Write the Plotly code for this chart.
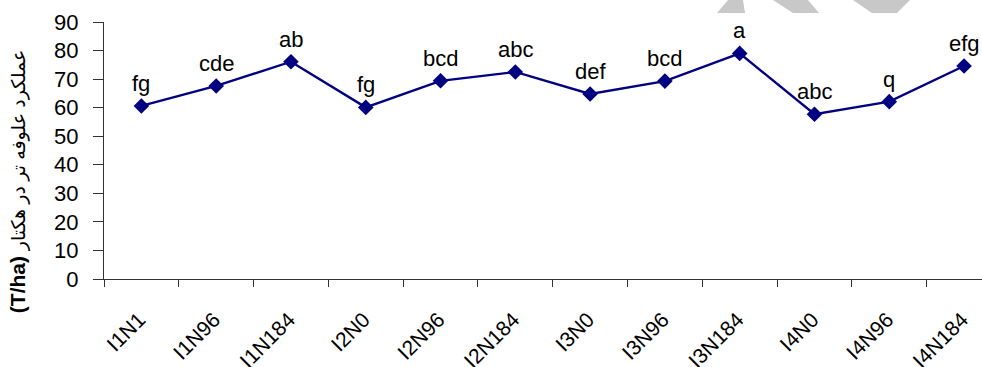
import plotly.graph_objects as go

# Treatments (irrigation level x nitrogen rate)
treatments = ["I1N1", "I1N96", "I1N184", "I2N0", "I2N96", "I2N184",
              "I3N0", "I3N96", "I3N184", "I4N0", "I4N96", "I4N184"]
# Fresh forage yield, T/ha
yield_tha = [60.6, 67.6, 76.1, 60.1, 69.4, 72.5, 64.8, 69.3, 79.0, 57.7, 62.1, 74.6]
# Mean-separation letters
letters = ["fg", "cde", "ab", "fg", "bcd", "abc", "def", "bcd", "a", "abc", "q", "efg"]

y_ticks = [0, 10, 20, 30, 40, 50, 60, 70, 80, 90]

NAVY = "#000080"
AX = "#333333"
FONT = "Liberation Sans, Arial"

fig = go.Figure()
fig.add_trace(go.Scatter(
    x=treatments, y=yield_tha, mode="lines+markers",
    line=dict(color=NAVY, width=2.4),
    marker=dict(symbol="diamond", size=12, color=NAVY),
    hoverinfo="x+y", showlegend=False,
))

for t, v, s in zip(treatments, yield_tha, letters):
    fig.add_annotation(x=t, y=v, text=s, showarrow=False,
                       yanchor="bottom", yshift=8,
                       font=dict(family=FONT, size=22, color="#000"))

# y-axis title, set a little below the middle of the axis
fig.add_annotation(
    xref="paper", yref="paper", x=-0.097, y=0.38,
    xanchor="center", yanchor="middle", textangle=-90, showarrow=False,
    text="<b>(T/ha)</b> <span style='font-size:19px'>عملکرد علوفه تر در هکتار</span>",
    font=dict(size=21, family="Liberation Sans, DejaVu Sans", color="#000"),
)

# faint decorative shapes along the top edge
def px_to_paper(px, py):
    return (px - 104) / 878, (279 - py) / 257

def poly(points):
    pts = [px_to_paper(a, b) for a, b in points]
    return "M " + " L ".join(f"{a:.4f},{b:.4f}" for a, b in pts) + " Z"

for pts in [
    [(728, 0), (743, 0), (745, 13), (717, 13)],
    [(773, 0), (808, 0), (819, 13), (793, 13)],
    [(853, 0), (910, 0), (897, 13), (872, 13)],
]:
    fig.add_shape(type="path", path=poly(pts), xref="paper", yref="paper",
                  fillcolor="#c8c8c8", line=dict(width=0), layer="below")

fig.update_layout(
    width=982, height=367,
    margin=dict(l=104, r=0, t=22, b=88),
    paper_bgcolor="white", plot_bgcolor="white",
    font=dict(family=FONT, color="#000"),
    xaxis=dict(
        type="category", range=[-0.5, 11.24], automargin=False,
        showline=True, linecolor=AX, linewidth=1.3,
        ticks="outside", tickson="boundaries", ticklen=7, tickcolor=AX,
        tickangle=-45, tickfont=dict(size=21, color="#000"),
        ticklabelstandoff=19, ticklabelshift=-2,
        showgrid=False, zeroline=False,
    ),
    yaxis=dict(
        range=[0, 90], tickvals=y_ticks, automargin=False,
        showline=True, linecolor=AX, linewidth=1.3,
        ticks="outside", ticklen=10, tickcolor=AX,
        tickfont=dict(size=22, color="#000"),
        ticklabelstandoff=10,
        showgrid=False, zeroline=False,
    ),
)

fig.write_html("out.html")
